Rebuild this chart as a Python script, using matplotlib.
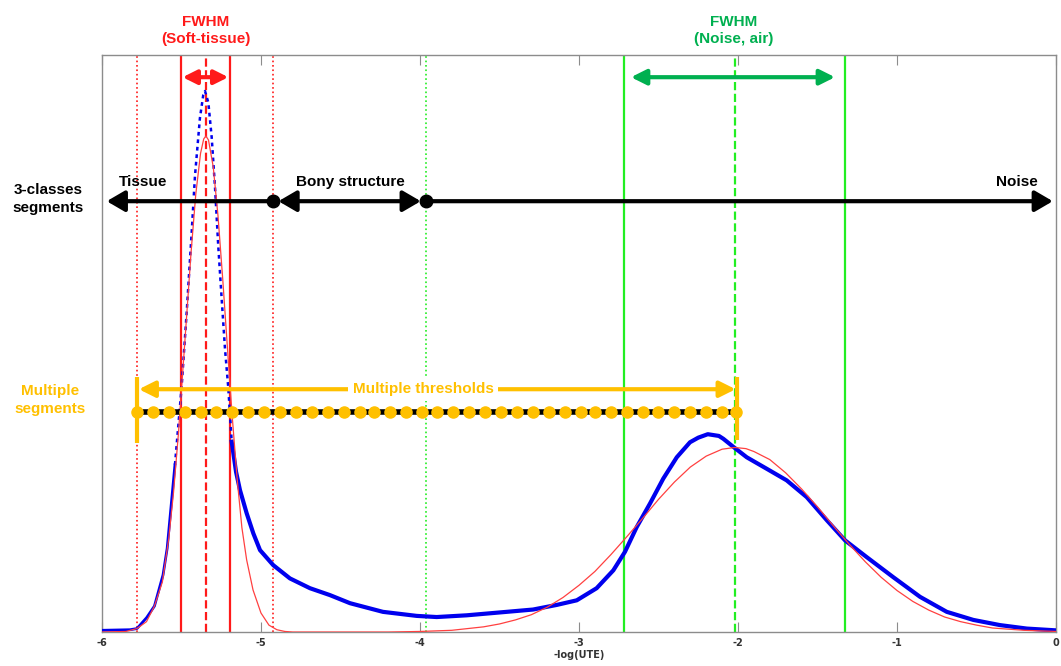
import numpy as np
import matplotlib
matplotlib.use("Agg")
from matplotlib import pyplot as plt

# histogram of -log(UTE) (y normalised to axes height)
blue_x = [-6.000, -5.824, -5.780, -5.719, -5.670, -5.616, -5.590, -5.541, -5.499,
          -5.467, -5.436, -5.415, -5.384, -5.363, -5.352, -5.331, -5.310, -5.289,
          -5.269, -5.247, -5.226, -5.206, -5.184, -5.157, -5.132, -5.090, -5.048,
          -5.006, -4.923, -4.818, -4.692, -4.566, -4.440, -4.233, -4.021, -3.895,
          -3.706, -3.497, -3.289, -3.140, -3.014, -2.889, -2.784, -2.711, -2.637,
          -2.553, -2.470, -2.385, -2.302, -2.250, -2.190, -2.120, -2.092, -2.029,
          -1.945, -1.819, -1.694, -1.568, -1.442, -1.327, -1.191, -1.023, -0.855,
          -0.687, -0.520, -0.352, -0.184, -0.006]
blue_v = [0.003, 0.004, 0.006, 0.025, 0.045, 0.099, 0.145, 0.290, 0.425,
          0.555, 0.692, 0.791, 0.891, 0.931, 0.938, 0.918, 0.858, 0.771,
          0.671, 0.577, 0.490, 0.425, 0.330, 0.278, 0.246, 0.206, 0.171,
          0.142, 0.116, 0.093, 0.076, 0.064, 0.050, 0.035, 0.028, 0.026,
          0.029, 0.034, 0.039, 0.047, 0.055, 0.076, 0.107, 0.139, 0.182,
          0.223, 0.266, 0.303, 0.329, 0.337, 0.343, 0.340, 0.335, 0.321,
          0.303, 0.283, 0.263, 0.234, 0.194, 0.159, 0.130, 0.095, 0.061,
          0.035, 0.021, 0.012, 0.006, 0.003]

# gaussian fits (red)
red_x = [-6.00, -5.85, -5.78, -5.72, -5.67, -5.62, -5.58, -5.55, -5.52, -5.50,
         -5.47, -5.44, -5.41, -5.38, -5.36, -5.346, -5.33, -5.30, -5.27, -5.24,
         -5.21, -5.18, -5.15, -5.12, -5.09, -5.05, -5.00, -4.95, -4.90, -4.85,
         -4.80, -4.20, -4.00, -3.80, -3.60, -3.50, -3.40, -3.30, -3.20, -3.10,
         -3.00, -2.90, -2.80, -2.70, -2.60, -2.50, -2.40, -2.30, -2.20, -2.10,
         -2.02, -1.95, -1.90, -1.80, -1.70, -1.60, -1.50, -1.40, -1.30, -1.20,
         -1.10, -1.00, -0.90, -0.80, -0.70, -0.60, -0.50, -0.40, -0.30, -0.20,
         -0.10, 0.00]
red_v = [0.000, 0.001, 0.006, 0.018, 0.045, 0.087, 0.162, 0.242, 0.341, 0.420,
         0.538, 0.657, 0.759, 0.830, 0.855, 0.860, 0.853, 0.806, 0.721, 0.610,
         0.489, 0.371, 0.266, 0.181, 0.125, 0.073, 0.033, 0.012, 0.004, 0.001,
         0.000, 0.000, 0.001, 0.003, 0.009, 0.014, 0.021, 0.030, 0.043, 0.060,
         0.081, 0.105, 0.134, 0.165, 0.197, 0.230, 0.260, 0.286, 0.305, 0.317,
         0.320, 0.318, 0.313, 0.299, 0.276, 0.248, 0.217, 0.184, 0.152, 0.122,
         0.095, 0.072, 0.053, 0.038, 0.026, 0.018, 0.012, 0.007, 0.005, 0.003,
         0.002, 0.001]

soft_fwhm = [-5.503, -5.195]
soft_center = -5.346
soft_bounds = [-5.78, -4.925]
noise_fwhm = [-2.717, -1.327]
noise_center = -2.02
bone_bound = -3.96
class_thresholds = [-4.925, -3.96]

multi_thresholds = [-5.78, -5.68, -5.58, -5.48, -5.38, -5.28, -5.18, -5.08, -4.98,
                    -4.88, -4.78, -4.68, -4.58, -4.48, -4.38, -4.29, -4.19, -4.09,
                    -3.99, -3.89, -3.79, -3.69, -3.59, -3.49, -3.39, -3.29, -3.19,
                    -3.09, -2.99, -2.90, -2.80, -2.70, -2.60, -2.50, -2.40, -2.30,
                    -2.20, -2.10, -2.01]

xticks = [-6, -5, -4, -3, -2, -1, 0]
xtick_labels = ["-6", "-5", "-4", "-3", "-2", "-1", "0"]

RED = "#ff1a1a"
GREEN_LINE = "#22ee22"
GREEN_TXT = "#00b050"
ORANGE = "#ffc000"
FONT = ["Liberation Sans", "DejaVu Sans"]

fig = plt.figure(figsize=(10.61, 6.66), dpi=100)
ax = fig.add_axes([0.0961, 0.051, 0.8992, 0.866])
ax.set_xlim(-6, 0)
ax.set_ylim(0, 1)

# vertical reference lines
for xv in soft_bounds:
    ax.axvline(xv, color=RED, ls=":", lw=1.2, zorder=2)
for xv in soft_fwhm:
    ax.axvline(xv, color=RED, ls="-", lw=1.6, zorder=2)
ax.axvline(soft_center, color=RED, ls="--", lw=1.6, zorder=2)
ax.axvline(bone_bound, color=GREEN_LINE, ls=":", lw=1.2, zorder=2)
for xv in noise_fwhm:
    ax.axvline(xv, color=GREEN_LINE, ls="-", lw=1.6, zorder=2)
ax.axvline(noise_center, color=GREEN_LINE, ls="--", lw=1.6, zorder=2)

# histogram: thick band on the tails, thinner dotted on the narrow peak
bx = np.array(blue_x)
bv = np.array(blue_v)
peak = (bx > -5.56) & (bx < -5.17)
ax.plot(bx[bx <= -5.52], bv[bx <= -5.52], color="#0000ee", lw=2.0, zorder=3)
ax.plot(bx[bx >= -5.19], bv[bx >= -5.19], color="#0000ee", lw=3.0, zorder=3)
ax.plot(bx[peak], bv[peak], color="#0000ee", lw=1.8, ls=(0, (1.5, 1.5)), zorder=3)
ax.plot(red_x, red_v, color="#ff4040", lw=0.9, zorder=4)

# 3-classes segments
y3 = 0.747
arr = dict(color="k", lw=3, shrinkA=0, shrinkB=0, mutation_scale=18)
ax.annotate("", xy=(-5.97, y3), xytext=(class_thresholds[0], y3),
            arrowprops=dict(arrowstyle="-|>,head_length=0.6,head_width=0.35", **arr), zorder=5)
ax.annotate("", xy=(class_thresholds[0] + 0.035, y3), xytext=(class_thresholds[1] - 0.035, y3),
            arrowprops=dict(arrowstyle="<|-|>,head_length=0.6,head_width=0.35", **arr), zorder=5)
ax.annotate("", xy=(-0.02, y3), xytext=(class_thresholds[1], y3),
            arrowprops=dict(arrowstyle="-|>,head_length=0.6,head_width=0.35", **arr), zorder=5)
ax.plot(class_thresholds, [y3, y3], "o", color="k", ms=9, zorder=6)
ax.text(-5.742, 0.781, "Tissue", ha="center", va="center", fontsize=11,
        fontweight="bold", family=FONT)
ax.text(-4.44, 0.781, "Bony structure", ha="center", va="center", fontsize=11,
        fontweight="bold", family=FONT)
ax.text(-0.245, 0.781, "Noise", ha="center", va="center", fontsize=11,
        fontweight="bold", family=FONT)

# FWHM arrows
yf = 0.962
ax.annotate("", xy=(soft_fwhm[0] + 0.01, yf), xytext=(soft_fwhm[1] - 0.01, yf),
            arrowprops=dict(arrowstyle="<|-|>,head_length=0.7,head_width=0.35", color=RED,
                            lw=3, shrinkA=0, shrinkB=0, mutation_scale=12), zorder=5)
ax.annotate("", xy=(-2.673, yf), xytext=(-1.39, yf),
            arrowprops=dict(arrowstyle="<|-|>,head_length=0.7,head_width=0.35", color=GREEN_TXT,
                            lw=3, shrinkA=0, shrinkB=0, mutation_scale=13), zorder=5)
ax.text(soft_center, 1.043, "FWHM\n(Soft-tissue)", ha="center", va="center", color=RED,
        fontsize=11, fontweight="bold", family=FONT, linespacing=1.25, clip_on=False)
ax.text(noise_center - 0.01, 1.043, "FWHM\n(Noise, air)", ha="center", va="center",
        color=GREEN_TXT, fontsize=11, fontweight="bold", family=FONT, linespacing=1.25,
        clip_on=False)

# multiple thresholds
ym = 0.382
ya = 0.421
ax.plot([multi_thresholds[0]] * 2, [0.328, 0.442], color=ORANGE, lw=3, zorder=6,
        solid_capstyle="butt")
ax.plot([multi_thresholds[-1] + 0.006] * 2, [0.333, 0.442], color=ORANGE, lw=3, zorder=6,
        solid_capstyle="butt")
ax.annotate("", xy=(multi_thresholds[0] + 0.012, ya), xytext=(multi_thresholds[-1] - 0.005, ya),
            arrowprops=dict(arrowstyle="<|-|>,head_length=0.6,head_width=0.3", color=ORANGE,
                            lw=3, shrinkA=0, shrinkB=0, mutation_scale=16), zorder=6)
ax.text(-3.98, ya, "Multiple thresholds", ha="center", va="center", color=ORANGE,
        fontsize=11, fontweight="bold", family=FONT, zorder=7,
        bbox=dict(boxstyle="square,pad=0.3", fc="white", ec="none"))
ax.plot(multi_thresholds, [ym] * len(multi_thresholds), "-", color="k", lw=4, zorder=6)
ax.plot(multi_thresholds, [ym] * len(multi_thresholds), "o", color=ORANGE, ms=8, zorder=7)

# labels at the left
fig.text(48 / 1061, 1 - 199 / 666, "3-classes\nsegments", ha="center", va="center",
         fontsize=11, fontweight="bold", family=FONT, linespacing=1.3)
fig.text(50 / 1061, 1 - 400 / 666, "Multiple\nsegments", ha="center", va="center",
         fontsize=11, fontweight="bold", family=FONT, color=ORANGE, linespacing=1.3)

# axes styling
for sp in ax.spines.values():
    sp.set_color("#8c8c8c")
    sp.set_linewidth(1)
ax.set_xticks(xticks)
ax.set_xticklabels(xtick_labels, fontsize=7, fontweight="bold", color="#333333")
ax.set_yticks([])
ax.tick_params(axis="x", direction="in", length=7, top=True, color="#8c8c8c", pad=4)
ax.set_xlabel("-log(UTE)", fontsize=7, fontweight="bold", color="#333333", labelpad=2)

fig.savefig("out.png", dpi=100)
